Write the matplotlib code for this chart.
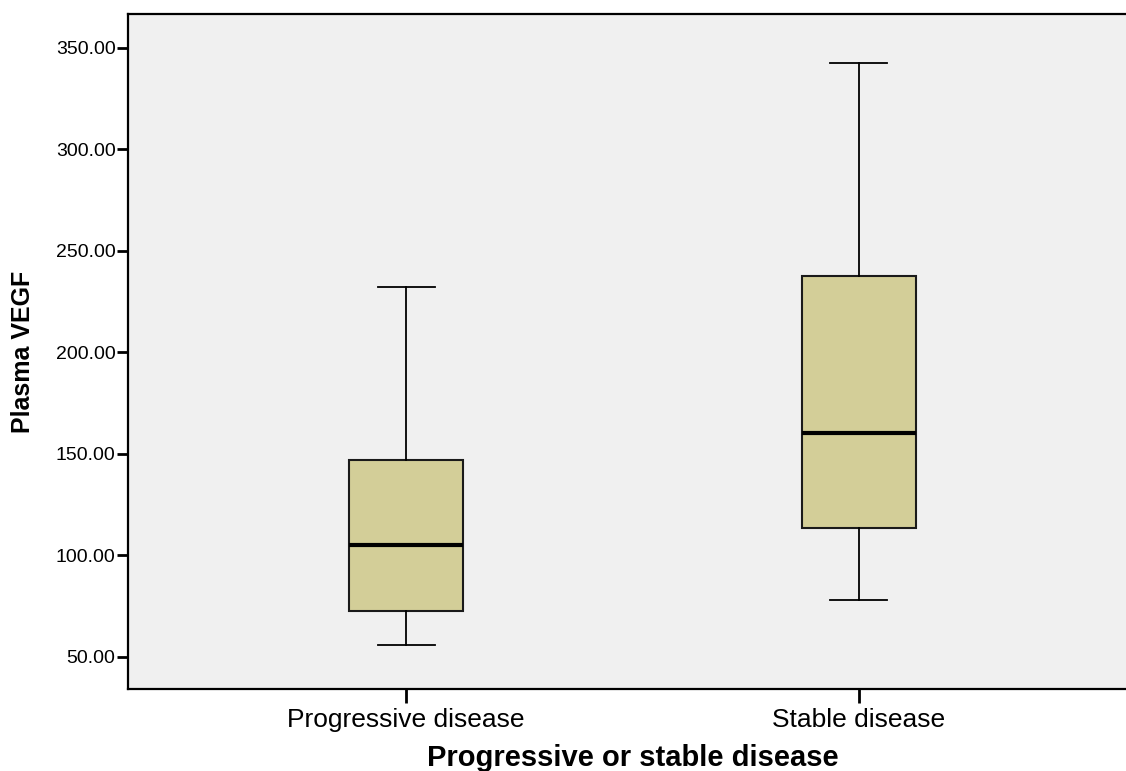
import matplotlib.pyplot as plt

# Boxplot summary values
categories = ['Progressive disease', 'Stable disease']
whisker_low = [55.9, 78.1]
q1 = [72.7, 113.5]
median = [105.2, 160.3]
q3 = [147.0, 237.7]
whisker_high = [232.3, 342.6]
yticks = [50, 100, 150, 200, 250, 300, 350]

plt.rcParams['font.family'] = ['Liberation Sans', 'DejaVu Sans']

fig = plt.figure(figsize=(11.26, 7.71), dpi=100)
ax = fig.add_axes([128 / 1126, 82 / 771, 1009 / 1126, 675 / 771])
ax.set_facecolor('#F0F0F0')

stats = []
for i, name in enumerate(categories):
    stats.append({'label': name, 'whislo': whisker_low[i], 'q1': q1[i],
                  'med': median[i], 'q3': q3[i], 'whishi': whisker_high[i],
                  'fliers': []})

ax.bxp(stats, positions=[1, 2], widths=0.252, patch_artist=True,
       showfliers=False,
       boxprops=dict(facecolor='#D3CE98', edgecolor='#1a1a1a', linewidth=1.5),
       medianprops=dict(color='black', linewidth=3),
       whiskerprops=dict(color='black', linewidth=1.3),
       capprops=dict(color='black', linewidth=1.3),
       capwidths=0.126)

ax.set_xlim(0.386, 2.614)
ax.set_ylim(34.2, 366.7)
ax.set_yticks(yticks)
ax.set_yticklabels([f'{v:.2f}' for v in yticks])
ax.set_xticks([1, 2])
ax.set_xticklabels(categories)

ax.tick_params(axis='y', direction='out', length=8, width=2, labelsize=14, pad=1)
ax.tick_params(axis='x', direction='out', length=10, width=2, labelsize=19, pad=4)

for side in ['left', 'bottom', 'top']:
    ax.spines[side].set_linewidth(1.6)
    ax.spines[side].set_color('black')
ax.spines['right'].set_visible(False)

# kept just inside the bottom edge so the label is not clipped
ax.set_xlabel('Progressive or stable disease', fontsize=21, fontweight='bold', labelpad=8)
ax.set_ylabel('Plasma VEGF', fontsize=18, fontweight='bold', labelpad=15)

fig.savefig('out.png', dpi=100)
